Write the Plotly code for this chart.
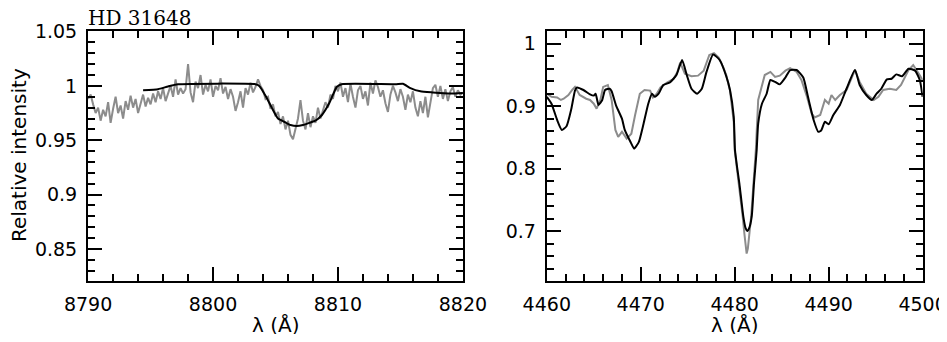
import plotly.graph_objects as go

# ---------------- Left panel data (8790-8820 A) ----------------
left_obs_start = 8790.0
left_obs_step = 0.2
left_obs_flux = [
    0.988, 0.992, 0.983, 0.975, 0.980, 0.968, 0.978, 0.972, 0.985, 0.966, 0.979, 0.990, 0.975, 0.982, 0.970,
    0.986, 0.978, 0.991, 0.980, 0.988, 0.975, 0.985, 0.992, 0.981, 0.989, 0.983,
    0.993, 0.985, 0.995, 0.988, 0.998, 0.986, 0.994, 1.000, 0.990, 1.006, 0.992, 0.998, 0.993,
    0.997, 1.020, 0.994, 0.985, 1.004, 0.998, 1.010, 0.992, 1.001, 0.995, 1.006, 0.990, 1.000, 0.996, 1.007,
    0.993, 0.999, 0.988, 0.997, 0.990, 0.977, 0.985, 0.995, 0.980, 0.998, 0.992, 1.003, 0.994, 0.999,
    1.006, 1.000, 0.996, 0.988, 0.990, 0.979, 0.983, 0.972, 0.976, 0.965, 0.972, 0.960, 0.968,
    0.955, 0.951, 0.962, 0.970, 0.987, 0.968, 0.960, 0.975, 0.962, 0.972, 0.966, 0.980, 0.970, 0.978, 0.985,
    0.980, 0.992, 0.988, 1.000, 0.995, 1.003, 0.990,
    0.998, 0.985, 1.002, 0.990, 0.980, 0.996, 1.000, 0.988, 0.995, 0.982, 1.003, 0.993, 1.005, 0.999, 0.990,
    0.996, 0.984, 0.976, 0.992, 1.000, 0.994, 0.986, 0.997,
    0.990, 0.978, 0.992, 0.985, 0.995, 0.980, 0.972, 0.986, 0.975, 0.990, 0.971, 0.984, 0.998, 1.001, 0.990,
    1.000, 0.988, 0.997, 0.986, 0.995, 0.999, 0.990, 0.996, 0.992, 0.994,
]
left_obs_wave = [left_obs_start + i * left_obs_step for i in range(len(left_obs_flux))]

left_model_wave = [8794.4, 8795.6, 8796.4, 8797.2, 8803.4, 8803.7, 8804.2, 8804.7, 8805.2, 8805.7,
                   8806.2, 8806.7, 8807.2, 8807.7, 8808.2, 8808.7, 8809.3, 8809.9, 8810.3, 8814.6,
                   8815.2, 8815.8, 8816.6, 8817.6, 8819.0, 8820.0]
left_model_flux = [0.996, 0.997, 0.9995, 1.0015, 1.0015, 1.0, 0.991, 0.980, 0.970, 0.967,
                   0.964, 0.963, 0.964, 0.966, 0.968, 0.973, 0.984, 0.999, 1.0015, 1.0015,
                   1.002, 0.998, 0.995, 0.994, 0.993, 0.9935]

# ---------------- Right panel data (4460-4500 A) ----------------
right_obs_wave = [4460.0, 4460.5, 4461.1, 4461.5, 4461.8, 4462.3, 4462.7, 4463.0, 4463.5, 4464.2,
                  4464.6, 4465.0, 4465.3, 4465.7, 4466.0, 4466.5, 4466.9, 4467.3, 4467.6, 4468.0,
                  4468.5, 4469.0, 4469.4, 4469.9, 4470.4, 4471.0, 4471.3, 4471.7, 4472.1, 4472.8,
                  4473.5, 4473.9, 4474.2, 4474.7, 4475.4, 4476.1, 4476.7, 4477.3, 4477.8, 4478.3,
                  4478.8, 4479.1, 4479.5, 4479.9, 4480.0, 4480.45, 4480.85, 4481.03, 4481.15, 4481.27,
                  4481.4, 4481.55, 4481.75, 4482.0, 4482.25, 4482.5, 4482.9, 4483.2, 4483.8, 4484.3,
                  4484.8, 4485.4, 4485.9, 4486.6, 4487.1, 4487.7, 4488.2, 4488.5, 4489.1, 4489.6,
                  4490.0, 4490.3, 4490.7, 4491.2, 4491.9, 4492.8, 4493.3, 4494.0, 4494.8, 4495.3,
                  4495.8, 4496.5, 4497.2, 4497.7, 4498.5, 4499.0, 4499.6, 4500.0]
right_obs_flux = [0.920, 0.915, 0.914, 0.910, 0.912, 0.918, 0.926, 0.931, 0.918, 0.912,
                  0.910, 0.904, 0.896, 0.910, 0.931, 0.934, 0.910, 0.862, 0.851, 0.859,
                  0.848, 0.856, 0.886, 0.920, 0.926, 0.925, 0.914, 0.920, 0.930, 0.938,
                  0.944, 0.955, 0.970, 0.952, 0.948, 0.949, 0.957, 0.982, 0.985, 0.978,
                  0.962, 0.950, 0.925, 0.875, 0.830, 0.776, 0.723, 0.696, 0.675, 0.664,
                  0.672, 0.696, 0.723, 0.776, 0.830, 0.910, 0.931, 0.950, 0.955, 0.947,
                  0.949, 0.957, 0.961, 0.955, 0.942, 0.915, 0.888, 0.882, 0.886, 0.910,
                  0.904, 0.918, 0.910, 0.918, 0.926, 0.958, 0.939, 0.920, 0.910, 0.915,
                  0.926, 0.928, 0.926, 0.934, 0.958, 0.966, 0.952, 0.942]

right_model_wave = [4460.0, 4460.5, 4461.1, 4461.6, 4462.1, 4462.6, 4463.0, 4463.2, 4463.9, 4464.6,
                    4465.0, 4465.2, 4465.5, 4465.9, 4466.2, 4466.7, 4466.9, 4467.4, 4468.0, 4468.3,
                    4468.9, 4469.3, 4469.8, 4470.3, 4470.8, 4471.2, 4471.5, 4471.9, 4472.4, 4473.1,
                    4473.8, 4474.4, 4474.9, 4475.4, 4476.0, 4476.5, 4477.0, 4477.7, 4478.4, 4479.1,
                    4479.5, 4479.9, 4480.03, 4480.25, 4480.5, 4480.92, 4481.15, 4481.34, 4481.55, 4481.81,
                    4482.05, 4482.2, 4482.34, 4482.5, 4482.9, 4483.4, 4483.8, 4484.3, 4484.8, 4485.4,
                    4485.9, 4486.6, 4487.3, 4487.8, 4488.4, 4488.9, 4489.2, 4489.6, 4490.0, 4490.5,
                    4491.2, 4491.9, 4492.8, 4493.3, 4494.0, 4494.6, 4495.1, 4495.6, 4496.2, 4496.7,
                    4497.2, 4497.8, 4498.5, 4499.2, 4499.7, 4500.0]
right_model_flux = [0.915, 0.904, 0.878, 0.862, 0.868, 0.895, 0.925, 0.930, 0.926, 0.919,
                    0.917, 0.920, 0.902, 0.910, 0.926, 0.928, 0.924, 0.900, 0.880, 0.862,
                    0.843, 0.832, 0.843, 0.872, 0.904, 0.920, 0.915, 0.920, 0.934, 0.938,
                    0.950, 0.974, 0.950, 0.928, 0.920, 0.928, 0.955, 0.983, 0.974, 0.948,
                    0.926, 0.883, 0.830, 0.803, 0.776, 0.723, 0.705, 0.700, 0.705, 0.723,
                    0.776, 0.803, 0.830, 0.872, 0.904, 0.920, 0.942, 0.939, 0.935, 0.946,
                    0.958, 0.958, 0.946, 0.915, 0.878, 0.859, 0.861, 0.875, 0.871, 0.886,
                    0.902, 0.928, 0.958, 0.934, 0.918, 0.910, 0.920, 0.928, 0.943, 0.944,
                    0.951, 0.948, 0.960, 0.957, 0.942, 0.915]

left_xticks = [8790, 8800, 8810, 8820]
left_yticks = [0.85, 0.9, 0.95, 1, 1.05]
right_xticks = [4460, 4470, 4480, 4490, 4500]
right_yticks = [0.7, 0.8, 0.9, 1]

title_text = "HD 31648"
ylabel_text = "Relative intensity"
xlabel_text = "λ (Å)"

GRAY = "rgb(140,140,140)"
FONT = "DejaVu Sans"
# The page body has an 8 px margin, so the figure is shifted by 8 px; keep
# the page from overflowing vertically (8 + H + 8 = 342).
OFF = 8
W, H = 947 - OFF, 342 - 2 * OFF


def px(x):
    return (x - OFF) / W


def py(y):
    return 1 - (y - OFF) / H


fig = go.Figure()
fig.add_trace(go.Scatter(x=left_obs_wave, y=left_obs_flux, mode="lines",
                         line=dict(color=GRAY, width=2), xaxis="x", yaxis="y"))
fig.add_trace(go.Scatter(x=left_model_wave, y=left_model_flux, mode="lines",
                         line=dict(color="black", width=2, shape="spline", smoothing=0.5),
                         xaxis="x", yaxis="y"))
fig.add_trace(go.Scatter(x=right_obs_wave, y=right_obs_flux, mode="lines",
                         line=dict(color=GRAY, width=2), xaxis="x2", yaxis="y2"))
fig.add_trace(go.Scatter(x=right_model_wave, y=right_model_flux, mode="lines",
                         line=dict(color="black", width=2, shape="spline", smoothing=0.5),
                         xaxis="x2", yaxis="y2"))


def axis_common(dtick, tick0, minor_dtick, standoff):
    return dict(
        tickmode="linear", tick0=tick0, dtick=dtick,
        showline=True, linecolor="black", linewidth=2, mirror="allticks",
        ticks="inside", ticklen=14, tickwidth=1.5, tickcolor="black",
        showgrid=False, zeroline=False, automargin=False,
        ticklabelstandoff=standoff,
        tickfont=dict(family=FONT, size=19, color="black"),
        minor=dict(dtick=minor_dtick, tick0=tick0, ticks="inside", ticklen=7, tickwidth=1.5,
                   tickcolor="black"),
    )


ydom = [py(281), py(31)]
fig.update_layout(
    width=W, height=H,
    margin=dict(l=0, r=0, t=0, b=0, autoexpand=False),
    paper_bgcolor="white", plot_bgcolor="white",
    showlegend=False,
    xaxis=dict(domain=[px(88), px(463)], range=[8789.99, 8820.01], anchor="y",
               **axis_common(10, left_xticks[0], 2, 5)),
    yaxis=dict(domain=ydom, range=[0.8205, 1.0505], anchor="x",
               **axis_common(0.05, left_yticks[0], 0.01, 5)),
    xaxis2=dict(domain=[px(546.7), px(922.7)], range=[4459.99, 4500.01], anchor="y2",
                **axis_common(10, right_xticks[0], 2, 5)),
    yaxis2=dict(domain=ydom, range=[0.62, 1.0205], anchor="x2",
                **axis_common(0.1, right_yticks[0], 0.02, 5)),
)

fig.add_annotation(text=title_text, xref="paper", yref="paper", x=px(86), y=1, yshift=4,
                   xanchor="left", yanchor="top", showarrow=False,
                   font=dict(family="DejaVu Serif", size=20, color="black"))
fig.add_annotation(text=ylabel_text, xref="paper", yref="paper", x=0, xshift=-3, y=py(155),
                   xanchor="left", yanchor="middle", textangle=-90, showarrow=False,
                   font=dict(family=FONT, size=20, color="black"))
fig.add_annotation(text=xlabel_text, xref="paper", yref="paper", x=px(275.5), y=py(325),
                   xanchor="center", yanchor="middle", showarrow=False,
                   font=dict(family=FONT, size=20, color="black"))
fig.add_annotation(text=xlabel_text, xref="paper", yref="paper", x=px(734.7), y=py(325),
                   xanchor="center", yanchor="middle", showarrow=False,
                   font=dict(family=FONT, size=20, color="black"))

fig.write_html("out.html")
